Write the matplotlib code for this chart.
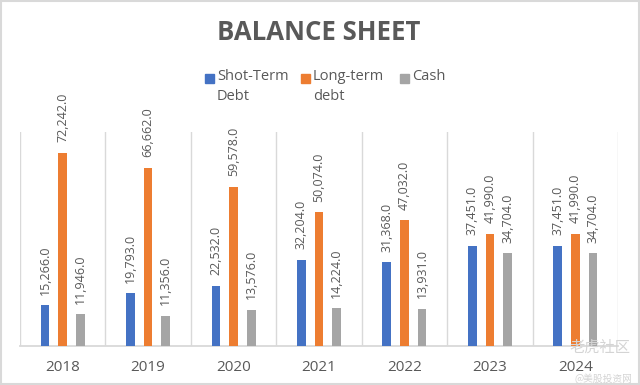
import matplotlib.pyplot as plt
from matplotlib.patches import Rectangle
import numpy as np

years = ['2018', '2019', '2020', '2021', '2022', '2023', '2024']
short_debt = [15266.0, 19793.0, 22532.0, 32204.0, 31368.0, 37451.0, 37451.0]
long_debt = [72242.0, 66662.0, 59578.0, 50074.0, 47032.0, 41990.0, 41990.0]
cash = [11946.0, 11356.0, 13576.0, 14224.0, 13931.0, 34704.0, 34704.0]
series_names = ['Shot-Term\nDebt', 'Long-term\ndebt', 'Cash']
colors = ['#4472C4', '#ED7D31', '#A5A5A5']
txt = '#595959'

plt.rcParams['font.family'] = ['Open Sans', 'DejaVu Sans']

fig = plt.figure(figsize=(6.4, 3.85), dpi=100)
ax = fig.add_axes([20 / 640, 1 - 346 / 385, 598 / 640, 214 / 385])

x = np.arange(len(years))
w = 0.102
off = 0.207
for i, vals in enumerate([short_debt, long_debt, cash]):
    bars = ax.bar(x + (i - 1) * off, vals, w, color=colors[i], zorder=3)
    for b, v in zip(bars, vals):
        ax.annotate(f'{v:,.1f}', (b.get_x() + b.get_width() / 2, v),
                    xytext=(0, 7.5), textcoords='offset points', rotation=90,
                    ha='center', va='bottom', fontsize=9, color=txt,
                    annotation_clip=False)

ax.set_xlim(-0.5, len(years) - 0.5)
ax.set_ylim(0, 80000)
ax.set_xticks(x)
ax.set_xticklabels(years, fontsize=11, color=txt)
ax.set_xticks(np.arange(-0.5, len(years)), minor=True)
ax.tick_params(axis='x', which='both', length=0, pad=10)
ax.grid(axis='x', which='minor', color='#d9d9d9', linewidth=1, zorder=0)
ax.set_yticks([])
for s in ['top', 'left', 'right']:
    ax.spines[s].set_visible(False)
ax.spines['bottom'].set_color('#d9d9d9')
ax.spines['bottom'].set_linewidth(1.3)

# title
fig.text(319 / 640, 1 - 33 / 385, 'BALANCE SHEET', ha='center', va='center',
         fontsize=18.5, fontweight='bold', color=txt)

# legend drawn by hand so the square sits on the first line
leg_x = [205, 301, 400]
for lx, name, c in zip(leg_x, series_names, colors):
    fig.patches.append(Rectangle((lx / 640, 1 - 83 / 385), 9 / 640, 9 / 385,
                                 transform=fig.transFigure, color=c))
    fig.text((lx + 12) / 640, 1 - 69 / 385, name, ha='left', va='top',
             fontsize=10.5, color=txt, linespacing=1.45)

# watermark
cjk = ['Noto Sans CJK SC', 'DejaVu Sans']
fig.text(630 / 640, 1 - 347 / 385, '老虎社区', ha='right', va='center',
         fontsize=11, color='#d4d4d4', family=cjk)
fig.text(632 / 640, 1 - 379 / 385, '@美股投资网', ha='right', va='center',
         fontsize=7, color='#d4d4d4', family=cjk)

# chart border
fig.patches.append(Rectangle((0.002, 0.003), 0.996, 0.994, transform=fig.transFigure,
                             fill=False, edgecolor='#d9d9d9', linewidth=1.5))

fig.savefig('out.png', dpi=100)
